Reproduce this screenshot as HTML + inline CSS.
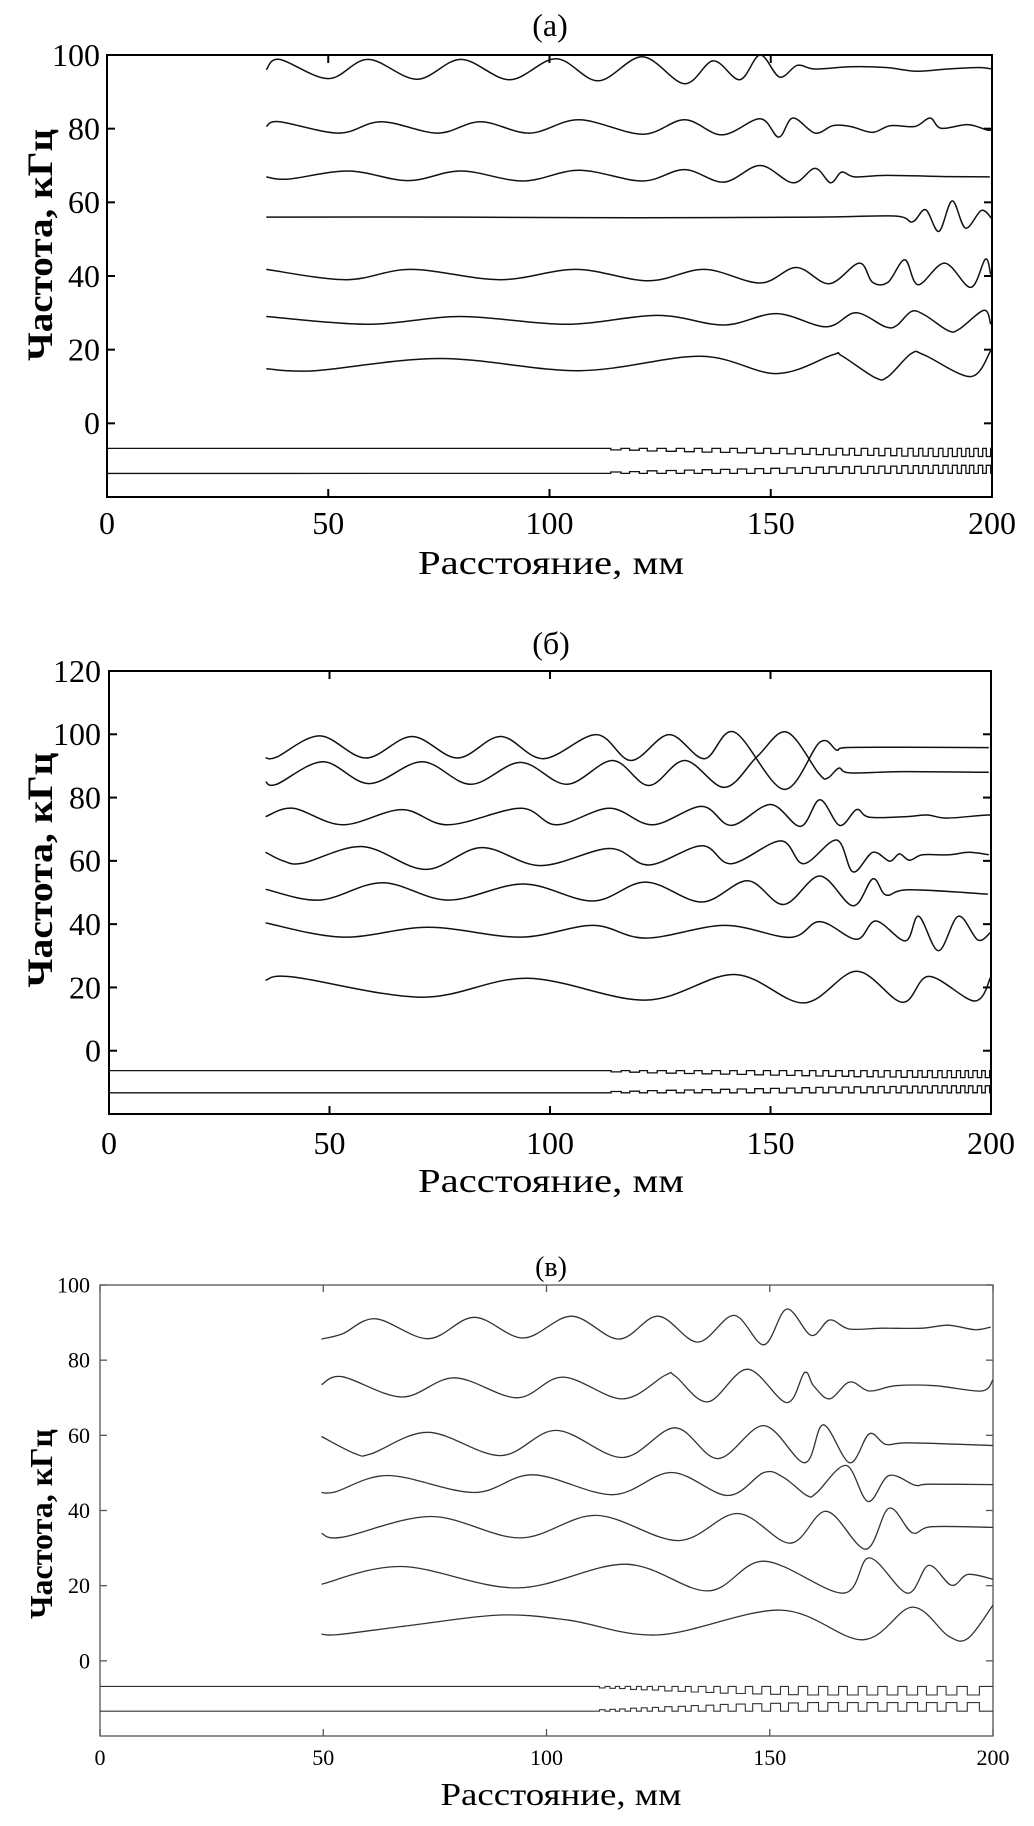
<!DOCTYPE html>
<html><head><meta charset="utf-8">
<style>
html,body{margin:0;padding:0;background:#fff;}
svg{display:block;}
text{font-family:"Liberation Serif","DejaVu Serif",serif;fill:#000;}
</style></head>
<body>
<svg id="fig" width="1034" height="1826" viewBox="0 0 1034 1826" xmlns="http://www.w3.org/2000/svg"></svg>
<script>
const xTicks = [0, 50, 100, 150, 200];
const yTicksA = [0, 20, 40, 60, 80, 100];
const yTicksB = [0, 20, 40, 60, 80, 100, 120];
const yTicksC = [0, 20, 40, 60, 80, 100];

const a1 = [[36,96],[39,98.8],[50,93.6],[59,98.8],[70,93.4],[80,98.8],[91,93.3],[101.5,99],[111,93],[121,99.5],[130.5,92.2],[137,98.4],[143,93.3],[147.6,100],[152,94],[156,97.2],[160,96.2],[168,96.8],[176,96.6],[183,95.6],[190,96.2],[197,96.6],[200,96.2]];
const a2 = [[36,80.6],[39,81.9],[52.4,78.8],[62,81.9],[74.7,78.8],[84.4,81.9],[95.5,78.8],[106.7,82.4],[121,78.5],[130.5,82.4],[139,78.3],[147.6,82.7],[151.8,77.7],[155,82.9],[160,78.8],[164,80.8],[168,80.6],[173,79],[177,80.8],[182.6,80.6],[186,82.9],[188.5,80.1],[194.5,81.1],[199,79.6],[200,79.8]];
const a3 = [[36,66.9],[41,66.3],[54.6,68.5],[68,65.9],[80,68.5],[94,65.8],[106.7,68.7],[121,65.8],[130.5,68.9],[139.4,65.5],[147.6,70],[155,65.3],[160,69.2],[163.5,65.3],[166,68.2],[169,66.9],[176,67.3],[190,67],[199.5,66.9]];
const a4 = [[36,56],[80,56],[120,55.8],[160,56],[178,56.3],[182,54.7],[185,58],[188,52.1],[191,60.4],[194,53],[197.6,57.8],[200,55.5]];
const a5 = [[36,41.8],[54,39],[68.7,41.8],[88.8,39],[106,41.8],[122.3,38.7],[135,41.8],[147.6,38.1],[155.8,42.3],[163.2,37.9],[170,43.5],[173,38.3],[176.5,38.3],[180.3,44.4],[183.3,37.6],[189.3,43.5],[195.2,36.9],[198.5,44.6],[199.7,40.4]];
const a6 = [[36,29],[59,26.9],[80,29],[103.7,26.9],[124.5,29.3],[139.4,26.7],[151.3,29.8],[162.5,26.2],[169.2,30],[175.9,26.2],[178.5,26.6],[181.8,30.4],[184.8,29.4],[190,25.2],[192.5,25.5],[198.2,30.7],[199.7,26.9]];
const a7 = [[36,14.8],[47,14.3],[75.4,17.6],[106.7,14.3],[134.2,18.2],[151.3,13.5],[164,18.6],[166,18.4],[173.6,12.4],[176.5,12.7],[181.8,19],[184.8,18.5],[195.2,12.7],[199.7,19.7]];

const b1 = [[35.5,92.6],[38,92.8],[47.8,99.5],[58.2,92.5],[68.7,99.3],[79,92.5],[88.8,99.3],[98.5,92.3],[110.5,99.9],[118.4,91.7],[127,99.9],[135,92.3],[141.8,100.7],[153,82.6],[161.2,97.5],[165,95],[167,95.8],[180,95.9],[199.5,95.8]];
const b2 = [[35.5,85],[38,84.2],[48.5,91.3],[59,84.4],[71,91.3],[82,84.2],[93.3,91.1],[103.8,84.2],[114.2,91.7],[122.4,83.8],[130.6,91.7],[139.6,83.2],[147,93],[153.7,100.7],[161,87.5],[163,86.2],[165.5,89.3],[168,87.8],[180,88.2],[199.5,88]];
const b3 = [[35.5,74],[41.8,76.6],[53,71.4],[66.4,76.2],[76.9,71.4],[93.3,76.6],[101.5,71.4],[113.5,76.6],[123.2,71.4],[134.4,77.2],[141.1,71.2],[150,77.8],[156.8,70.9],[161.2,79.3],[165.7,71.2],[169.5,76.2],[172.4,73.8],[181,74],[185.5,74.5],[190,73.5],[199.3,74.5],[199.9,73.8]];
const b4 = [[35.5,62.7],[39.5,60],[44,59.3],[57.5,64.5],[71.7,57.3],[84.4,64.2],[97.8,58.5],[113.5,63.9],[122.4,58.7],[134.4,64.8],[141.1,59.1],[152.3,66.3],[157.5,59.1],[165,66.6],[168.7,56.5],[173.2,62.7],[177,59.9],[179.2,62.2],[181.5,60.2],[184.5,61.9],[190.5,61.9],[195,62.7],[199.5,61.9]];
const b5 = [[35.5,51],[47.8,47.6],[62,53.1],[76.9,47.6],[94,52.7],[109.7,47.3],[121.7,53.3],[134.4,47],[144.8,53.7],[153,46.2],[161.2,55.2],[168.7,45.8],[173.2,54.3],[176.2,49.2],[181.4,50.9],[199.3,49.5]];
const b6 = [[35.5,40.4],[53,35.9],[72.4,39],[93.3,35.9],[109.7,39.6],[121.7,35.6],[139.6,39.6],[154.5,35.8],[161.2,40.8],[169.5,35.2],[173.9,41],[180.6,34.7],[183.6,42.5],[188.1,31.6],[192.6,42.5],[197,35],[199.9,37.4]];
const b7 = [[35.5,22.3],[41.8,23.3],[70.9,16.9],[94.8,22.9],[121.7,16],[141.8,24.1],[157.5,15.1],[169.5,25.1],[179.9,15.3],[185.9,23.5],[196.3,15.7],[200,23.5]];

const c1 = [[49.6,85.6],[54.3,87],[61.7,91],[73.5,85.7],[83.8,91.4],[94.8,85.9],[105.6,91.7],[116.2,85.6],[125,91.7],[133.9,84.8],[142,91.9],[148.7,84.1],[153.8,93.6],[159.3,86.6],[163.4,90.7],[167.8,88.3],[175,88.5],[184,88.5],[190,89.3],[196,88.1],[199.5,88.8]];
const c2 = [[49.6,73.5],[54.3,75.6],[67.6,70.2],[79.4,75.3],[93.4,70],[103.7,75.5],[117,69.7],[126.6,76],[128.8,75.8],[136.1,68.9],[145,77.6],[153.8,68.7],[157.8,76.7],[159.8,73.2],[163.4,69.7],[167.9,74.2],[172.3,71.8],[178.2,73.2],[187,73.2],[197.4,71.8],[200,74.8]];
const c3 = [[49.6,59.7],[57.2,55.1],[60.8,55.1],[73.5,60.8],[89.7,54.6],[102.2,61.3],[117,54.1],[128.8,62],[138.4,53.8],[148.7,62.6],[157.8,52.7],[162,62.8],[167.9,52.7],[172.3,60.4],[176,57.6],[181.1,58],[200,57.3]];
const c4 = [[49.6,44.8],[52.8,45],[64.6,49.3],[83.8,44.8],[97,49.5],[114.8,44.2],[128,50.1],[140.6,44],[148.7,50.1],[153.1,48.8],[158.3,44],[160.5,44.7],[167.1,52],[172,42.4],[176.7,49.3],[182.6,46.7],[185.6,47],[200,46.9]];
const c5 = [[49.6,33.9],[54.3,32.9],[74.2,38.4],[94.1,32.7],[111.1,38.7],[129.5,32],[142.8,39.2],[154.6,31.3],[162.7,39.8],[171.5,29.7],[176.7,40.6],[181.9,34.1],[186.3,35.7],[200,35.5]];
const c6 = [[49.6,20.4],[67.6,25.1],[93.4,19.4],[117.7,25.7],[136.1,18.6],[148.7,26.5],[166.4,18],[172.3,27.4],[180.8,18],[185.6,25.4],[190.7,20.1],[194.4,23],[200,21.7]];
const c7 = [[49.6,7.1],[53.6,7.0],[70,9.5],[89.7,12.2],[105,10.8],[125.1,6.9],[152.4,13.5],[170.8,5.6],[181.9,14.3],[190,6.6],[194.4,6],[200,14.8]];

const pulsesAB = [115,119.2,123.2,127.5,131.6,135.6,139.7,143.5,147.4,151,154.6,158,161.1,164,167,169.7,172.6,175.1,177.8,180.3,182.8,185,187.3,189.5,191.6,193.6,195.4,197.4,199.2];
const depthAB  = [0.4,0.5,0.7,0.8,0.9,1.0,1.1,1.2,1.3,1.4,1.5,1.6,1.7,1.8,1.8,1.9,1.9,2.0,2.0,2.1,2.1,2.1,2.2,2.2,2.2,2.2,2.2,2.2,2.2];
const pulsesC  = [112.5,114.8,117,119.5,121.9,124.4,127.3,130.3,133.2,136.6,139.8,143.5,147.2,151.3,155.3,159.7,164.2,168.6,173,177.5,181.9,186.3,190.7,195.6];
const depthC   = [0.4,0.5,0.6,0.8,0.9,1.0,1.2,1.3,1.5,1.6,1.8,1.9,2.0,2.1,2.2,2.3,2.3,2.3,2.3,2.3,2.3,2.3,2.3,2.3];

const NS = "http://www.w3.org/2000/svg";
const svg = document.getElementById('fig');
function mk(tag, attrs, parent){
  const e = document.createElementNS(NS, tag);
  for (const k in attrs) e.setAttribute(k, attrs[k]);
  (parent||svg).appendChild(e);
  return e;
}
function smoothPath(pts){
  let d = "M" + pts[0][0].toFixed(1) + "," + pts[0][1].toFixed(1);
  for (let i=0;i<pts.length-1;i++){
    const p0 = pts[Math.max(0,i-1)], p1 = pts[i], p2 = pts[i+1], p3 = pts[Math.min(pts.length-1,i+2)];
    const c1x = p1[0]+(p2[0]-p0[0])/6, c1y = p1[1]+(p2[1]-p0[1])/6;
    const c2x = p2[0]-(p3[0]-p1[0])/6, c2y = p2[1]-(p3[1]-p1[1])/6;
    d += " C"+c1x.toFixed(1)+","+c1y.toFixed(1)+" "+c2x.toFixed(1)+","+c2y.toFixed(1)+" "+p2[0].toFixed(1)+","+p2[1].toFixed(1);
  }
  return d;
}

function panel(cfg){
  const g = mk('g', {});
  
  
  const sx = v => cfg.L + (v - 0) / 200 * (cfg.R - cfg.L);
  const sy = v => cfg.B - (v - cfg.ymin) / (cfg.ymax - cfg.ymin) * (cfg.B - cfg.T);
  const clip = mk('clipPath', {id:'clip-'+cfg.name}, g);
  mk('rect', {x:cfg.L, y:cfg.T, width:cfg.R-cfg.L, height:cfg.B-cfg.T}, clip);
  const ax = mk('rect', {x:cfg.L, y:cfg.T, width:cfg.R-cfg.L, height:cfg.B-cfg.T, fill:'none', stroke:cfg.axisColor, 'stroke-width':cfg.axisW}, g);
  
  
  xTicks.forEach(t => {
    const x = sx(t);
    mk('line', {x1:x,y1:cfg.B,x2:x,y2:cfg.B-cfg.tick,stroke:cfg.axisColor,'stroke-width':cfg.axisW}, g);
    mk('line', {x1:x,y1:cfg.T,x2:x,y2:cfg.T+cfg.tick,stroke:cfg.axisColor,'stroke-width':cfg.axisW}, g);
    const lb = mk('text', {x:x, y:cfg.xLabY, 'font-size':cfg.tickFs, 'text-anchor':'middle'}, g);
    lb.textContent = t;
    
    
  });
  cfg.yTicks.forEach(t => {
    const y = sy(t);
    mk('line', {x1:cfg.L,y1:y,x2:cfg.L+cfg.tick,y2:y,stroke:cfg.axisColor,'stroke-width':cfg.axisW}, g);
    mk('line', {x1:cfg.R,y1:y,x2:cfg.R-cfg.tick,y2:y,stroke:cfg.axisColor,'stroke-width':cfg.axisW}, g);
    const lb = mk('text', {x:cfg.yLabX, y:y+cfg.tickFs*0.34, 'font-size':cfg.tickFs, 'text-anchor':'end'}, g);
    lb.textContent = t;
    
    
  });
  const tt = mk('text', {x:cfg.titleX, y:cfg.titleY, 'font-size':cfg.titleFs, 'text-anchor':'middle'}, g);
  tt.textContent = cfg.title;
  
  
  const xl = mk('text', {x:cfg.xTitleX, y:cfg.xTitleY, 'font-size':cfg.xTitleFs, 'text-anchor':'middle', textLength:cfg.xTitleLen, lengthAdjust:'spacingAndGlyphs'}, g);
  xl.textContent = 'Расстояние, мм';
  
  
  const yl = mk('text', {x:0, y:0, 'font-size':cfg.yTitleFs, 'font-weight':'bold', 'text-anchor':'middle', textLength:cfg.yTitleLen, lengthAdjust:'spacingAndGlyphs', transform:'translate('+cfg.yTitleX+','+cfg.yTitleY+') rotate(-90)'}, g);
  yl.textContent = 'Частота, кГц';
  
  
  cfg.series.forEach((s, i) => {
    const pts = s.map(p => [sx(p[0]), sy(p[1])]);
    const path = mk('path', {d:smoothPath(pts), fill:'none', stroke:cfg.lineColor, 'stroke-width':cfg.lineW, 'stroke-linejoin':'round', 'clip-path':'url(#clip-'+cfg.name+')'}, g);
    
    
  });
  [[cfg.topLine, 1], [cfg.botLine, -1]].forEach(([lv, dir], k) => {
    let d = 'M' + sx(0) + ',' + sy(lv);
    cfg.pulses.forEach((p, i) => {
      const next = i < cfg.pulses.length-1 ? cfg.pulses[i+1] : p + (p - cfg.pulses[i-1]);
      const prev = i > 0 ? cfg.pulses[i-1] : p - (cfg.pulses[1]-p);
      const w = Math.min(next - p, p - prev) * 0.55;
      const x0 = sx(p - w/2), x1 = sx(Math.min(p + w/2, 200));
      const y2 = sy(lv - dir * cfg.depth[i]);
      d += ' L' + x0.toFixed(1) + ',' + sy(lv).toFixed(1) + ' L' + x0.toFixed(1) + ',' + y2.toFixed(1) + ' L' + x1.toFixed(1) + ',' + y2.toFixed(1) + ' L' + x1.toFixed(1) + ',' + sy(lv).toFixed(1);
    });
    d += ' L' + sx(200) + ',' + sy(lv);
    const pt = mk('path', {d:d, fill:'none', stroke:cfg.lineColor, 'stroke-width':cfg.pulseW}, g);
    
    
  });
}

panel({name:'panel-a', L:107, R:992, T:55, B:497, ymin:-20, ymax:100, yTicks:yTicksA,
  axisColor:'#000', axisW:2, tick:8, tickFs:32, xLabY:534, yLabX:100,
  title:'(a)', titleX:550, titleY:36, titleFs:32,
  xTitleX:551, xTitleY:574, xTitleFs:34, xTitleLen:266,
  yTitleX:52, yTitleY:245, yTitleFs:36, yTitleLen:232,
  series:[a1,a2,a3,a4,a5,a6,a7], lineColor:'#111', lineW:1.5, pulseW:1.3,
  pulses:pulsesAB, depth:depthAB, topLine:-6.8, botLine:-13.6});

panel({name:'panel-b', L:109, R:991, T:671, B:1114, ymin:-20, ymax:120, yTicks:yTicksB,
  axisColor:'#000', axisW:2, tick:8, tickFs:32, xLabY:1154, yLabX:101,
  title:'(б)', titleX:551, titleY:654, titleFs:32,
  xTitleX:551, xTitleY:1192, xTitleFs:34, xTitleLen:266,
  yTitleX:52, yTitleY:870, yTitleFs:36, yTitleLen:235,
  series:[b1,b2,b3,b4,b5,b6,b7], lineColor:'#111', lineW:1.5, pulseW:1.3,
  pulses:pulsesAB, depth:depthAB, topLine:-6.3, botLine:-13.3});

panel({name:'panel-c', L:100, R:993, T:1285, B:1736, ymin:-20, ymax:100, yTicks:yTicksC,
  axisColor:'#555', axisW:1.3, tick:7, tickFs:22, xLabY:1765, yLabX:90,
  title:'(в)', titleX:551, titleY:1276, titleFs:28,
  xTitleX:561, xTitleY:1805, xTitleFs:32, xTitleLen:241,
  yTitleX:52, yTitleY:1524, yTitleFs:32, yTitleLen:190,
  series:[c1,c2,c3,c4,c5,c6,c7], lineColor:'#333', lineW:1.3, pulseW:1.1,
  pulses:pulsesC, depth:depthC, topLine:-6.8, botLine:-13.4});
</script>
</body></html>
